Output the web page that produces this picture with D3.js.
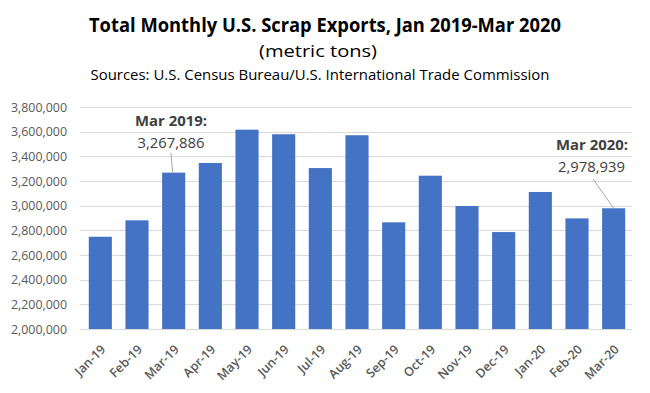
<!DOCTYPE html>
<html>
<head>
<meta charset="utf-8">
<script src="https://cdn.jsdelivr.net/npm/d3@7"></script>
<style>
  body { margin: 0; background: #fff; }
  svg { font-family: "Open Sans", "Noto Sans", sans-serif; }
</style>
</head>
<body>
<div id="chart"></div>
<script>
const months = ["Jan-19", "Feb-19", "Mar-19", "Apr-19", "May-19", "Jun-19", "Jul-19", "Aug-19",
    "Sep-19", "Oct-19", "Nov-19", "Dec-19", "Jan-20", "Feb-20", "Mar-20"];
const exportsTons = [2748000, 2881000, 3267886, 3346000, 3616000, 3579000, 3305000, 3571000,
    2865000, 3243000, 2997000, 2786000, 3111000, 2897000, 2978939];
const yTicks = [2000000, 2200000, 2400000, 2600000, 2800000, 3000000, 3200000, 3400000, 3600000, 3800000];
const callouts = [
    { month: "Mar-19", title: "Mar 2019:", value: 3267886 },
    { month: "Mar-20", title: "Mar 2020:", value: 2978939 }
];

const width = 650, height = 393;
const margin = { top: 107, right: 18, bottom: 64, left: 82 };

const svg = d3.select("#chart").append("svg")
    .attr("width", width)
    .attr("height", height);

const x = d3.scaleBand()
    .domain(months)
    .range([margin.left, width - margin.right])
    .paddingInner(0.37)
    .paddingOuter(0.185);

const y = d3.scaleLinear()
    .domain([2000000, 3800000])
    .range([height - margin.bottom, margin.top]);

// titles
svg.append("text")
    .attr("x", 325).attr("y", 32)
    .attr("text-anchor", "middle")
    .attr("font-size", "20px").attr("font-weight", "bold").attr("fill", "#000")
    .attr("textLength", 472).attr("lengthAdjust", "spacingAndGlyphs")
    .text("Total Monthly U.S. Scrap Exports, Jan 2019-Mar 2020");
svg.append("text")
    .attr("x", 318).attr("y", 57)
    .attr("text-anchor", "middle")
    .attr("font-size", "17px").attr("fill", "#000")
    .attr("textLength", 118).attr("lengthAdjust", "spacingAndGlyphs")
    .text("(metric tons)");
svg.append("text")
    .attr("x", 320).attr("y", 80)
    .attr("text-anchor", "middle")
    .attr("font-size", "14px").attr("fill", "#000")
    .attr("textLength", 459).attr("lengthAdjust", "spacingAndGlyphs")
    .text("Sources: U.S. Census Bureau/U.S. International Trade Commission");

// gridlines
svg.append("g")
    .selectAll("line")
    .data(yTicks)
    .join("line")
    .attr("x1", margin.left - 2)
    .attr("x2", width - margin.right)
    .attr("y1", d => Math.round(y(d)) + 0.5)
    .attr("y2", d => Math.round(y(d)) + 0.5)
    .attr("stroke", "#d9d9d9")
    .attr("stroke-width", 1);

// y axis labels
const yAxis = svg.append("g")
    .attr("transform", `translate(${margin.left - 15},0)`)
    .call(d3.axisLeft(y).tickValues(yTicks).tickFormat(d3.format(",")).tickSize(0).tickPadding(0));
yAxis.select(".domain").remove();
yAxis.selectAll("text")
    .attr("font-family", "'Open Sans', sans-serif")
    .attr("font-size", "12.5px")
    .attr("fill", "#595959")
    .attr("textLength", 56).attr("lengthAdjust", "spacingAndGlyphs");

// bars
svg.append("g")
    .selectAll("rect")
    .data(months.map((m, i) => ({ month: m, value: exportsTons[i] })))
    .join("rect")
    .attr("x", d => x(d.month))
    .attr("y", d => y(d.value))
    .attr("width", x.bandwidth())
    .attr("height", d => y(2000000) - y(d.value))
    .attr("fill", "#4472c4");

// x axis labels
const xAxis = svg.append("g")
    .attr("transform", `translate(0,${height - margin.bottom})`)
    .call(d3.axisBottom(x).tickSize(0).tickPadding(0));
xAxis.select(".domain").remove();
xAxis.selectAll("text")
    .attr("font-family", "'Open Sans', sans-serif")
    .attr("font-size", "12.5px")
    .attr("font-weight", "600")
    .attr("fill", "#595959")
    .attr("text-anchor", "end")
    .attr("dy", "0.35em")
    .attr("transform", "translate(3,18) rotate(-45)");

// callouts
const calloutPos = {
    "Mar-19": { tx: 171, ty: 126, anchor: "middle", lx: 171, ly: 153 },
    "Mar-20": { tx: 628, ty: 150, anchor: "end", lx: 593, ly: 179 }
};
callouts.forEach(c => {
    const p = calloutPos[c.month];
    const bx = x(c.month) + x.bandwidth() / 2;
    svg.append("line")
        .attr("x1", p.lx).attr("y1", p.ly)
        .attr("x2", c.month === "Mar-19" ? bx - 1 : bx)
        .attr("y2", y(c.value))
        .attr("stroke", "#a6a6a6").attr("stroke-width", 1);
    svg.append("text")
        .attr("x", p.tx).attr("y", p.ty)
        .attr("text-anchor", p.anchor)
        .attr("font-size", "14.5px").attr("font-weight", "bold").attr("fill", "#404040")
        .attr("textLength", 72).attr("lengthAdjust", "spacingAndGlyphs")
        .text(c.title);
    svg.append("text")
        .attr("x", p.tx - (p.anchor === "end" ? 3 : 0)).attr("y", p.ty + 22)
        .attr("text-anchor", p.anchor)
        .attr("font-size", "14.5px").attr("fill", "#404040")
        .attr("textLength", 67).attr("lengthAdjust", "spacingAndGlyphs")
        .text(d3.format(",")(c.value));
});
</script>
</body>
</html>
